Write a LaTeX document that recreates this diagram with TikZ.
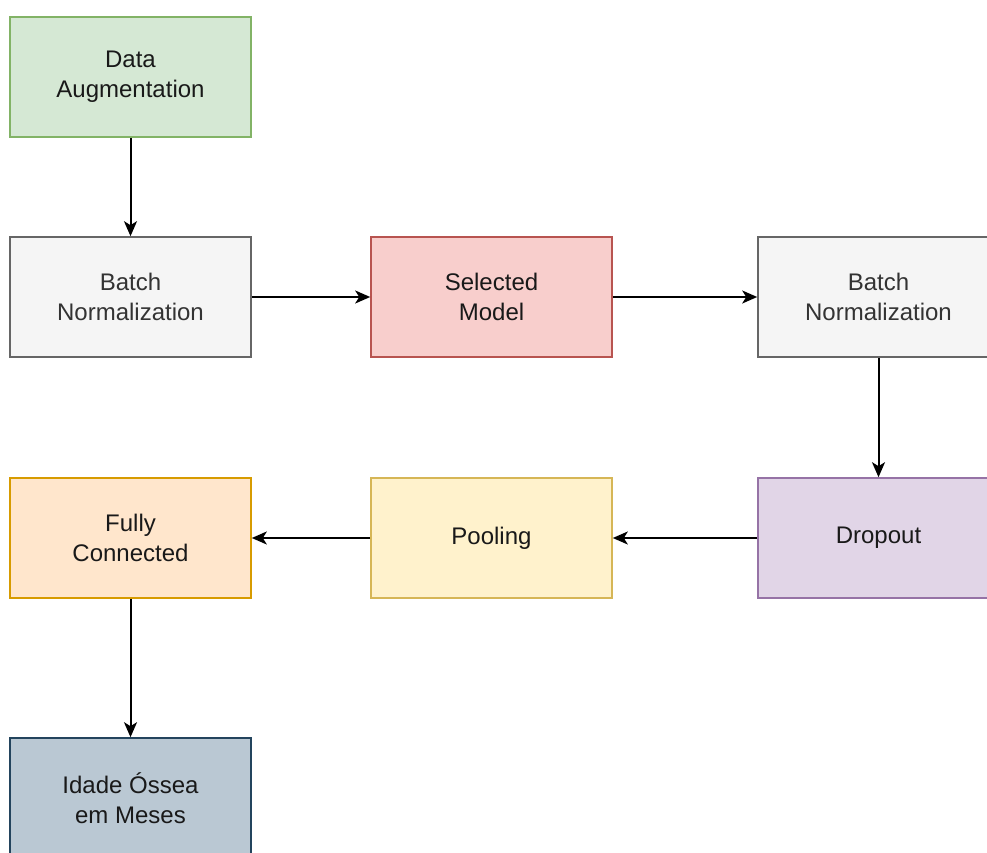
\documentclass[tikz,border=0pt]{standalone}
\usepackage{fontspec}
\setmainfont{Liberation Sans}
\usetikzlibrary{arrows.meta}
\definecolor{gfill}{HTML}{D5E8D4}\definecolor{gline}{HTML}{82B366}
\definecolor{nfill}{HTML}{F5F5F5}\definecolor{nline}{HTML}{666666}\definecolor{ntext}{HTML}{333333}
\definecolor{rfill}{HTML}{F8CECC}\definecolor{rline}{HTML}{B85450}
\definecolor{pfill}{HTML}{E1D5E7}\definecolor{pline}{HTML}{9673A6}
\definecolor{yfill}{HTML}{FFF2CC}\definecolor{yline}{HTML}{D6B656}
\definecolor{ofill}{HTML}{FFE6CC}\definecolor{oline}{HTML}{D79B00}
\definecolor{bfill}{HTML}{BAC8D3}\definecolor{bline}{HTML}{23445D}
\begin{document}
\begin{tikzpicture}[x=1pt,y=-1pt,
  box/.style={rectangle,draw,line width=1.6pt,minimum width=241pt,minimum height=120pt,
    inner sep=0pt,align=center,font=\fontsize{24}{30}\selectfont,text=black!90},
  conn/.style={line width=2pt,-{Stealth[length=15pt,width=13pt,inset=4pt]}}]
\useasboundingbox (0,0) rectangle (987,853);
\clip (0,0) rectangle (987,853);
\fill[white] (0,0) rectangle (987,853);
\node[box,fill=gfill,draw=gline] (da) at (130.5,77) {Data\\Augmentation};
\node[box,fill=nfill,draw=nline,text=ntext] (bn1) at (130.5,297) {Batch\\Normalization};
\node[box,fill=rfill,draw=rline] (sm) at (491.5,297) {Selected\\Model};
\node[box,fill=nfill,draw=nline,text=ntext] (bn2) at (878.5,297) {Batch\\Normalization};
\node[box,fill=pfill,draw=pline] (do) at (878.5,538) {\raisebox{4pt}{Dropout}};
\node[box,fill=yfill,draw=yline] (po) at (491.5,538) {\raisebox{4pt}{Pooling}};
\node[box,fill=ofill,draw=oline] (fc) at (130.5,538) {Fully\\Connected};
\node[box,fill=bfill,draw=bline] (id) at (130.5,798) {Idade Óssea\\em Meses};
\draw[conn] (da) -- (bn1);
\draw[conn] (bn1) -- (sm);
\draw[conn] (sm) -- (bn2);
\draw[conn] (bn2) -- (do);
\draw[conn] (do) -- (po);
\draw[conn] (po) -- (fc);
\draw[conn] (fc) -- (id);
\end{tikzpicture}
\end{document}
